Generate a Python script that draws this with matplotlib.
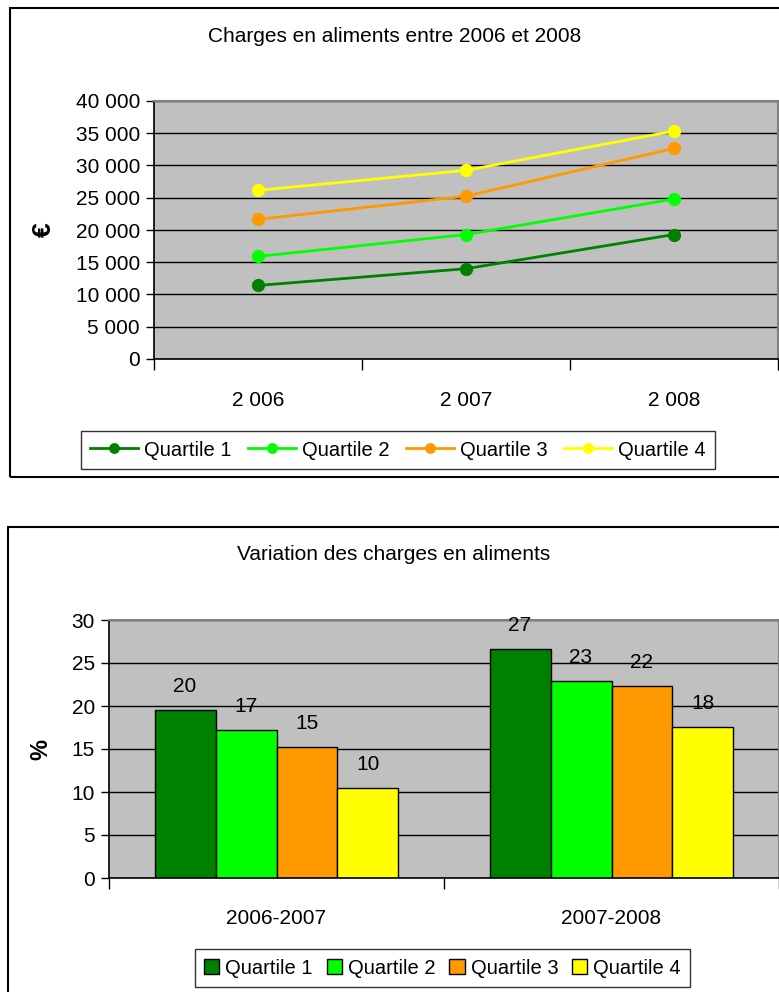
import matplotlib.pyplot as plt
import numpy as np
from matplotlib.patches import Rectangle
from matplotlib.ticker import FuncFormatter

plt.rcParams['font.family'] = ['Liberation Sans', 'DejaVu Sans']

# charges en aliments (euros) par quartile
years = ['2 006', '2 007', '2 008']
quartiles = ['Quartile 1', 'Quartile 2', 'Quartile 3', 'Quartile 4']
q1_charges = [11400, 14000, 19300]
q2_charges = [15900, 19300, 24800]
q3_charges = [21650, 25250, 32650]
q4_charges = [26150, 29250, 35350]

# variation en %
periods = ['2006-2007', '2007-2008']
q1_var = [19.55, 26.6]
q2_var = [17.2, 22.9]
q3_var = [15.2, 22.3]
q4_var = [10.45, 17.6]

colors = ['#008000', '#00FF00', '#FF9900', '#FFFF00']
W, H = 779, 992
FS = 15
LEG_FS = 14.5


def px_box(x0, y0, x1, y1):
    return [x0 / W, 1 - y1 / H, (x1 - x0) / W, (y1 - y0) / H]


def thousands(v, pos):
    return f"{int(v):,}".replace(',', ' ')


def style_axes(ax):
    ax.set_facecolor('#C0C0C0')
    for side in ['top', 'right']:
        ax.spines[side].set_color('#808080')
        ax.spines[side].set_linewidth(1.5)
    for side in ['left', 'bottom']:
        ax.spines[side].set_color('black')
        ax.spines[side].set_linewidth(1.2)
    ax.yaxis.grid(True, color='black', linewidth=1)
    ax.set_axisbelow(True)
    ax.tick_params(axis='y', labelsize=FS, length=6, width=1, direction='out', pad=4)
    ax.tick_params(axis='x', which='major', length=0, labelsize=FS)
    ax.tick_params(axis='x', which='minor', length=8, width=1, direction='out')


fig = plt.figure(figsize=(W / 100, H / 100), dpi=100)

# cadres des deux graphiques
fig.patches.append(Rectangle((10 / W, 1 - 477 / H), (W + 5 - 10) / W, (477 - 8) / H,
                             transform=fig.transFigure, fill=False, edgecolor='black', linewidth=1.5))
fig.patches.append(Rectangle((8 / W, 1 - (H + 5) / H), (W + 5 - 8) / W, (H + 5 - 527) / H,
                             transform=fig.transFigure, fill=False, edgecolor='black', linewidth=1.5))

# --- graphique 1 : courbes ---
ax1 = fig.add_axes(px_box(154, 101, 778, 359))
style_axes(ax1)
x = np.arange(len(years))
for vals, col, lab in zip([q1_charges, q2_charges, q3_charges, q4_charges], colors, quartiles):
    ax1.plot(x, vals, color=col, linewidth=2, marker='o', markersize=8.5, label=lab)
ax1.set_xlim(-0.5, len(years) - 0.5)
ax1.set_ylim(0, 40000)
ax1.set_yticks(np.arange(0, 40001, 5000))
ax1.yaxis.set_major_formatter(FuncFormatter(thousands))
ax1.set_xticks(x)
ax1.set_xticklabels(years)
ax1.set_xticks(np.arange(-0.5, len(years)), minor=True)
ax1.tick_params(axis='x', which='major', pad=23)
ax1.set_ylabel('€', fontsize=19, fontweight='bold', labelpad=14)
fig.text(0.5 * (10 + 779) / W, 1 - 37 / H, 'Charges en aliments entre 2006 et 2008',
         ha='center', va='center', fontsize=FS)
leg1 = ax1.legend(loc='center', bbox_to_anchor=((82 + 714) / 2 / W, 1 - 450 / H),
                  bbox_transform=fig.transFigure, ncol=4, fontsize=LEG_FS, frameon=True,
                  fancybox=False, edgecolor='black', handlelength=2.4, handletextpad=0.3,
                  columnspacing=0.8, borderpad=0.45, markerscale=0.8)
leg1.get_frame().set_linewidth(1)

# --- graphique 2 : barres ---
ax2 = fig.add_axes(px_box(109, 620, 779, 878))
style_axes(ax2)
xp = np.arange(len(periods))
bw = 0.182
for i, (vals, col, lab) in enumerate(zip([q1_var, q2_var, q3_var, q4_var], colors, quartiles)):
    pos = xp + (i - 1.5) * bw
    bars = ax2.bar(pos, vals, width=bw, color=col, edgecolor='black', linewidth=1, label=lab)
    for b, v in zip(bars, vals):
        ax2.annotate(f"{v:.0f}", (b.get_x() + b.get_width() / 2, v), xytext=(0, 17),
                     textcoords='offset points', ha='center', va='center', fontsize=FS)
ax2.set_xlim(-0.5, len(periods) - 0.5)
ax2.set_ylim(0, 30)
ax2.set_yticks(np.arange(0, 31, 5))
ax2.set_xticks(xp)
ax2.set_xticklabels(periods)
ax2.set_xticks(np.arange(-0.5, len(periods)), minor=True)
ax2.tick_params(axis='x', which='major', pad=22)
ax2.set_ylabel('%', fontsize=17, fontweight='bold', labelpad=14)
fig.text(0.5 * (8 + 779) / W, 1 - 555 / H, 'Variation des charges en aliments',
         ha='center', va='center', fontsize=FS)
leg2 = ax2.legend(loc='center', bbox_to_anchor=((191 + 694) / 2 / W, 1 - 968 / H),
                  bbox_transform=fig.transFigure, ncol=4, fontsize=LEG_FS, frameon=True,
                  fancybox=False, edgecolor='black', handlelength=0.75, handleheight=0.75,
                  handletextpad=0.3, columnspacing=0.7, borderpad=0.45)
leg2.get_frame().set_linewidth(1)

fig.savefig('out.png', dpi=100)
